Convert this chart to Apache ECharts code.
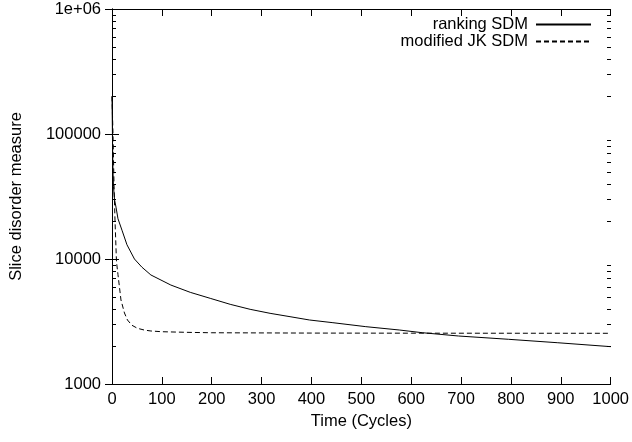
<!DOCTYPE html>
<html><head><meta charset="utf-8">
<script src="https://cdn.jsdelivr.net/npm/echarts@6/dist/echarts.min.js"></script>
<style>html,body{margin:0;padding:0;background:#fff}#c{width:632px;height:442px}</style>
</head><body><div id="c"></div>
<script>
const seriesNames = ['ranking SDM', 'modified JK SDM'];
const rankingX = [0, 1, 2, 3, 5, 8, 12, 20, 30, 45, 60, 78, 118, 157, 197, 237, 277, 317, 357, 396, 443, 509, 576, 622, 695, 795, 894, 1000];
const rankingY = [200000, 90000, 50000, 38000, 30000, 26000, 21000, 17000, 13000, 10000, 8600, 7450, 6190, 5410, 4845, 4340, 3958, 3677, 3456, 3251, 3093, 2875, 2704, 2573, 2421, 2279, 2138, 1990];
const jkX = [0, 2, 4, 6, 9, 12, 18, 25, 31, 40, 51, 65, 78, 100, 150, 200, 400, 600, 1000];
const jkY = [200000, 100000, 40000, 20500, 9500, 7500, 4700, 3700, 3250, 2950, 2790, 2700, 2655, 2620, 2590, 2570, 2555, 2550, 2545];
const yMinorTicks = [2000,3000,4000,5000,6000,7000,8000,9000,20000,30000,40000,50000,60000,70000,80000,90000,200000,300000,400000,500000,600000,700000,800000,900000];
const xLabel = 'Time (Cycles)';
const yLabel = 'Slice disorder measure';

const font = 'Liberation Sans, Arial, Helvetica, sans-serif';
const fs = 16.5;
const chart = echarts.init(document.getElementById('c'), null, {renderer: 'canvas'});
const axisLine = {show: true, lineStyle: {color: '#000', width: 1}};
const majorTick = {show: true, inside: true, length: 7, lineStyle: {color: '#000', width: 1}};
const yFmt = v => v >= 1e6 ? '1e+06' : String(v);
const xFmt = v => String(v);

chart.setOption({
  animation: false,
  backgroundColor: '#fff',
  grid: {left: 111, right: 19, top: 9, bottom: 58, containLabel: false},
  legend: {
    orient: 'vertical', right: 40, top: 16, align: 'right', padding: 0,
    itemWidth: 55, itemHeight: 16, itemGap: 0,
    itemStyle: {color: 'rgba(0,0,0,0)', borderColor: 'rgba(0,0,0,0)', borderWidth: 0},
    textStyle: {fontFamily: font, fontSize: fs, color: '#000', lineHeight: 16, padding: [0, 3, 0, 0]},
    data: seriesNames
  },
  xAxis: [
    {type: 'value', position: 'bottom', min: 0, max: 1000, interval: 100,
     axisLine, axisTick: majorTick, splitLine: {show: false},
     axisLabel: {fontFamily: font, fontSize: fs, color: '#000', margin: 7, formatter: xFmt},
     name: xLabel, nameLocation: 'middle', nameGap: 28,
     nameTextStyle: {fontFamily: font, fontSize: fs, color: '#000'}},
    {type: 'value', position: 'top', min: 0, max: 1000, interval: 100,
     axisLine, axisTick: majorTick, splitLine: {show: false}, axisLabel: {show: false}}
  ],
  yAxis: [
    {type: 'log', logBase: 10, position: 'left', min: 1000, max: 1000000,
     axisLine, axisTick: majorTick, splitLine: {show: false}, minorTick: {show: false},
     axisLabel: {fontFamily: font, fontSize: fs, color: '#000', margin: 11, formatter: yFmt},
     name: yLabel, nameLocation: 'middle', nameGap: 87, nameRotate: 90,
     nameTextStyle: {fontFamily: font, fontSize: fs, color: '#000'}},
    {type: 'log', logBase: 10, position: 'right', min: 1000, max: 1000000,
     axisLine, axisTick: majorTick, splitLine: {show: false}, axisLabel: {show: false}}
  ],
  series: [
    {name: seriesNames[0], type: 'line', symbol: 'none', xAxisIndex: 0, yAxisIndex: 0,
     lineStyle: {color: '#000', width: 1, type: 'solid'}, itemStyle: {color: '#000'},
     data: rankingX.map((x, i) => [x, rankingY[i]])},
    {name: seriesNames[1], type: 'line', symbol: 'none', xAxisIndex: 0, yAxisIndex: 0,
     lineStyle: {color: '#000', width: 1, type: [5, 3]}, itemStyle: {color: '#000'},
     data: jkX.map((x, i) => [x, jkY[i]])},
    {type: 'custom', xAxisIndex: 0, yAxisIndex: 0, silent: true, z: 10, clip: false,
     data: yMinorTicks.map(v => [0, v]),
     renderItem: (params, api) => {
       const v = api.value(1);
       const l = api.coord([0, v]);
       const r = api.coord([1000, v]);
       const y = Math.round(l[1]) + 0.5;
       const st = {stroke: '#000', lineWidth: 1};
       return {type: 'group', children: [
         {type: 'line', shape: {x1: Math.round(l[0]), y1: y, x2: Math.round(l[0]) + 4, y2: y}, style: st},
         {type: 'line', shape: {x1: Math.round(r[0]) - 4, y1: y, x2: Math.round(r[0]), y2: y}, style: st}
       ]};
     }}
  ]
});
</script></body></html>
